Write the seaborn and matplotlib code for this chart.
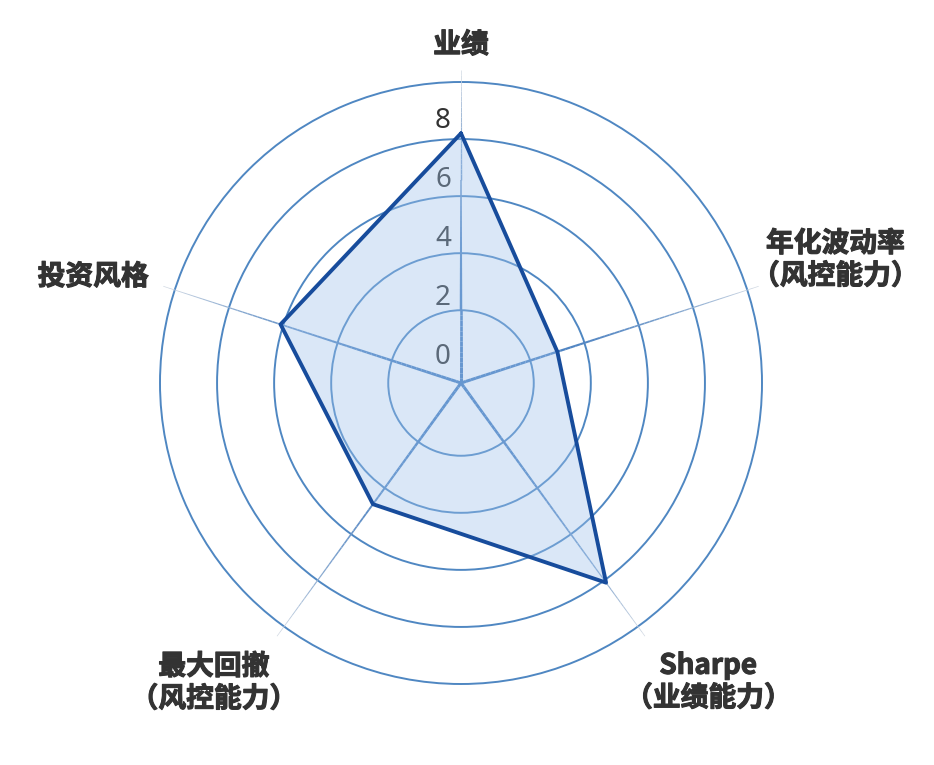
import numpy as np
import pandas as pd
import matplotlib
matplotlib.use("Agg")
import matplotlib.pyplot as plt
import matplotlib.transforms as mtransforms
import matplotlib.patheffects as pe
from matplotlib.collections import LineCollection
import seaborn as sns

# ---- data ----
categories = ["业绩", "年化波动率\n（风控能力）", "Sharpe\n（业绩能力）", "最大回撤\n（风控能力）", "投资风格"]
values = [8.2, 3.0, 8.1, 4.7, 6.1]
ring_ticks = [2, 4, 6, 8, 10]
tick_labels = [0, 2, 4, 6, 8]

sns.set_theme(style="white")
plt.rcParams["font.family"] = ["Noto Sans CJK SC", "DejaVu Sans"]

W, H = 934, 765
fig = plt.figure(figsize=(W / 100, H / 100), dpi=100)
cx, cy, R = 461, 382, 301
ax = fig.add_axes([(cx - R) / W, (cy - R) / H, 2 * R / W, 2 * R / H], projection="polar")
ax.set_theta_zero_location("N")
ax.set_theta_direction(-1)
rmin, rmax = -0.55, 10
ax.set_ylim(rmin, rmax)
ax.set_xticks([])
ax.set_yticks(ring_ticks)
ax.set_yticklabels([])
ax.yaxis.grid(True, color="#4f87c2", lw=1.4)
for gl in ax.yaxis.get_gridlines():
    gl.set_clip_on(False)
ax.xaxis.grid(False)
ax.spines["polar"].set_visible(False)
ax.set_facecolor("white")

n = len(categories)
theta = np.deg2rad(np.arange(n) * 360.0 / n)

# spokes with gradient
r_end = 10.42
nseg = 60
rs = np.linspace(rmin, r_end, nseg + 1)
c0 = np.array([0.27, 0.49, 0.75])
c1 = np.array([0.82, 0.85, 0.89])
for th in theta:
    segs = [[(th, rs[i]), (th, rs[i + 1])] for i in range(nseg)]
    t = np.linspace(0, 1, nseg)
    w = t ** 2.5
    cols = [tuple(c0 * (1 - a) + c1 * a) for a in w]
    lws = 2.2 - 1.7 * t
    lc = LineCollection(segs, colors=cols, linewidths=lws, transform=ax.transData,
                        clip_on=False, zorder=1.2)
    ax.add_collection(lc)

# radial tick labels (under the fill)
off = mtransforms.offset_copy(ax.transData, fig=fig, x=-18, y=0, units="dots")
for t_ in tick_labels:
    ax.text(0, 0.36 + 1.034 * t_, str(t_), transform=off, ha="center", va="center",
            fontsize=20, color="#333333", family=["Noto Sans", "DejaVu Sans"], zorder=1.5)

# data polygon
df = pd.DataFrame({"theta": np.append(theta, theta[0]), "value": values + [values[0]]})
ax.fill(df["theta"], df["value"], color="#9ec2ec", alpha=0.38, zorder=2, lw=0)
sns.lineplot(data=df, x="theta", y="value", sort=False, ax=ax, color="#174c9c",
             lw=2.8, zorder=4, estimator=None)
ax.set_xlabel("")
ax.set_ylabel("")
ax.set_ylim(rmin, rmax)
ax.set_xticks([])

# category labels
lab_theta = [0, 71.8, 140.4, 219.5, 286.1]
lab_r = [11.30, 13.26, 13.05, 13.07, 12.87]
for lbl, th, r in zip(categories, lab_theta, lab_r):
    ax.text(np.deg2rad(th), r, lbl, ha="center", va="center", fontsize=20,
            fontweight="bold", color="#333333", linespacing=1.2, clip_on=False,
            path_effects=[pe.withStroke(linewidth=0.8, foreground="#333333")])

fig.savefig("out.png", dpi=100, facecolor="white")
